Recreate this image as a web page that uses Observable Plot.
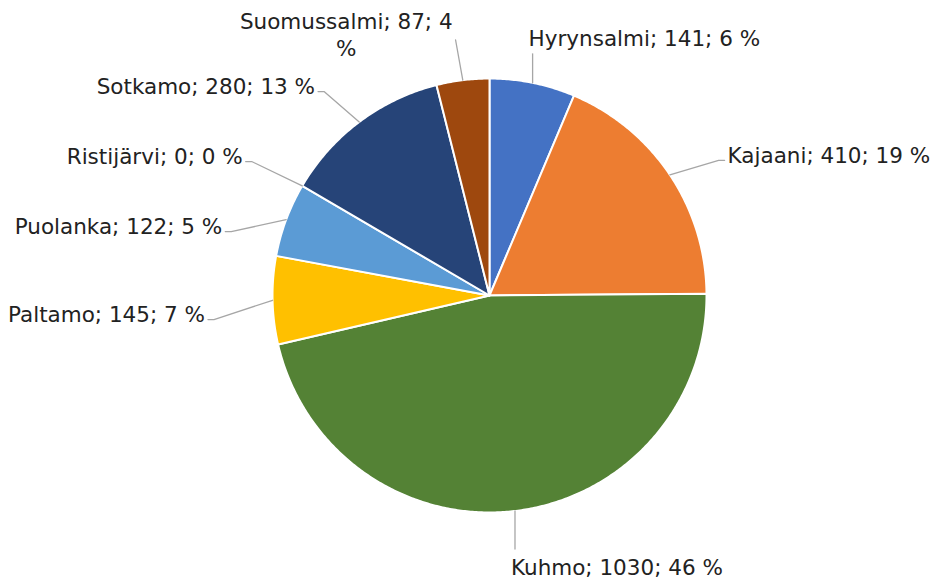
<!DOCTYPE html>
<html>
<head>
<meta charset="utf-8">
<script src="https://cdn.jsdelivr.net/npm/d3@7"></script>
<script src="https://cdn.jsdelivr.net/npm/@observablehq/plot@0.6"></script>
<style>
  html, body { margin: 0; padding: 0; background: #fff; }
</style>
</head>
<body>
<div id="chart"></div>
<script>
// ---- data ----
const names    = ["Hyrynsalmi", "Kajaani", "Kuhmo", "Paltamo", "Puolanka", "Ristijärvi", "Sotkamo", "Suomussalmi"];
const values   = [141, 410, 1030, 145, 122, 0, 280, 87];
const percents = [6, 19, 46, 7, 5, 0, 13, 4];
const colors   = ["#4472C4", "#ED7D31", "#548235", "#FFC000", "#5B9BD5", "#70AD47", "#264478", "#9E480E"];

// ---- layout ----
const W = 936, H = 580, CX = 489, CY = 295, R = 217;
const FONT_SIZE = 21.5, FONT = "DejaVu Sans";
const LABEL_R = 1.27, LABEL_DROP = 18, LEAD_TOP = 29, LEAD_BOTTOM = 38, MAXW = 236, MIN_GAP = 70;

const rows = names.map((name, i) => ({name, value: values[i], pct: percents[i]}));
const arcs = d3.pie().sort(null).value(d => d.value)(rows);

// slice outlines (data y points up)
const slicePts = arcs.filter(a => a.data.value > 0).flatMap(a => {
  const n = Math.max(2, Math.ceil((a.endAngle - a.startAngle) / (Math.PI / 360)));
  const pts = [{name: a.data.name, x: 0, y: 0}];
  for (let k = 0; k <= n; k++) {
    const t = a.startAngle + (a.endAngle - a.startAngle) * k / n;
    pts.push({name: a.data.name, x: R * Math.sin(t), y: R * Math.cos(t)});
  }
  pts.push({name: a.data.name, x: 0, y: 0});
  return pts;
});

// text measuring for label wrapping/placement
const ctx = document.createElement("canvas").getContext("2d");
ctx.font = `${FONT_SIZE}px "${FONT}"`;
const tw = s => ctx.measureText(s).width;
function wrap(s) {
  if (tw(s) <= MAXW) return [s];
  const words = s.split(" "), lines = [];
  let cur = "";
  for (const w of words) {
    const test = cur ? cur + " " + w : w;
    if (tw(test) > MAXW && cur) { lines.push(cur); cur = w; } else cur = test;
  }
  lines.push(cur);
  return lines;
}

// first pass: label anchors
const items = arcs.map(a => {
  const mid = (a.startAngle + a.endAngle) / 2, s = Math.sin(mid), c = Math.cos(mid);
  const lines = wrap(`${a.data.name}; ${a.data.value}; ${a.data.pct} %`);
  const w = Math.max(...lines.map(tw));
  const h = lines.length * FONT_SIZE * 1.2;
  const p0 = {x: R * s, y: R * c};
  if (s >= 0 && Math.abs(s) < 0.3) {
    return {a, s, c, lines, w, h, p0, mode: "vert"};
  }
  const side = s > 0 ? 1 : -1;
  const e = {x: LABEL_R * R * s, y: LABEL_R * R * c - LABEL_DROP};
  return {a, s, c, lines, w, h, p0, e, side, mode: Math.abs(s) > 0.3 ? "side" : "corner"};
});

// relax side labels so they keep a minimum vertical spacing
for (const side of [-1, 1]) {
  const group = items.filter(d => d.mode === "side" && d.side === side).sort((p, q) => q.e.y - p.e.y);
  for (let iter = 0; iter < 50; iter++) {
    let moved = false;
    for (let i = 1; i < group.length; i++) {
      const gap = group[i - 1].e.y - group[i].e.y;
      if (gap < MIN_GAP) {
        const d = (MIN_GAP - gap) / 2;
        group[i - 1].e.y += d; group[i].e.y -= d; moved = true;
      }
    }
    if (!moved) break;
  }
}

const labels = [], leaderPts = [];
for (const d of items) {
  let path, tx, ty;
  if (d.mode === "vert") {
    const dir = d.c > 0 ? 1 : -1;
    const e = {x: d.p0.x, y: d.p0.y + dir * (dir > 0 ? LEAD_TOP : LEAD_BOTTOM)};
    path = [d.p0, e];
    tx = e.x - 4 + d.w / 2;
    ty = e.y + dir * (4 + d.h / 2);
  } else if (d.mode === "side") {
    const stub = {x: d.e.x + d.side * 6, y: d.e.y};
    path = [d.p0, d.e, stub];
    tx = stub.x + d.side * (3 + d.w / 2);
    ty = d.e.y + 6;
  } else {
    path = [d.p0, d.e];
    tx = d.e.x + d.side * (3 + d.w / 2);
    ty = d.e.y + 6;
  }
  path.forEach(p => leaderPts.push({name: d.a.data.name, x: p.x, y: p.y}));
  labels.push({name: d.a.data.name, text: d.lines.join("\n"), x: tx, y: ty});
}

const chart = Plot.plot({
  width: W,
  height: H,
  margin: 0,
  style: {background: "#fff"},
  x: {domain: [-CX, W - CX], axis: null},
  y: {domain: [CY - H, CY], axis: null},
  color: {domain: names, range: colors},
  marks: [
    Plot.line(slicePts, {x: "x", y: "y", z: "name", fill: "name", stroke: "#fff", strokeWidth: 2, strokeLinejoin: "round", curve: "linear"}),
    Plot.line(leaderPts, {x: "x", y: "y", z: "name", stroke: "#A6A6A6", strokeWidth: 1.3, curve: "linear"}),
    Plot.text(labels, {x: "x", y: "y", text: "text", textAnchor: "middle", lineAnchor: "middle", lineHeight: 1.25,
      fontSize: FONT_SIZE, fontFamily: FONT, fill: "#222"})
  ]
});
document.getElementById("chart").append(chart);
</script>
</body>
</html>
